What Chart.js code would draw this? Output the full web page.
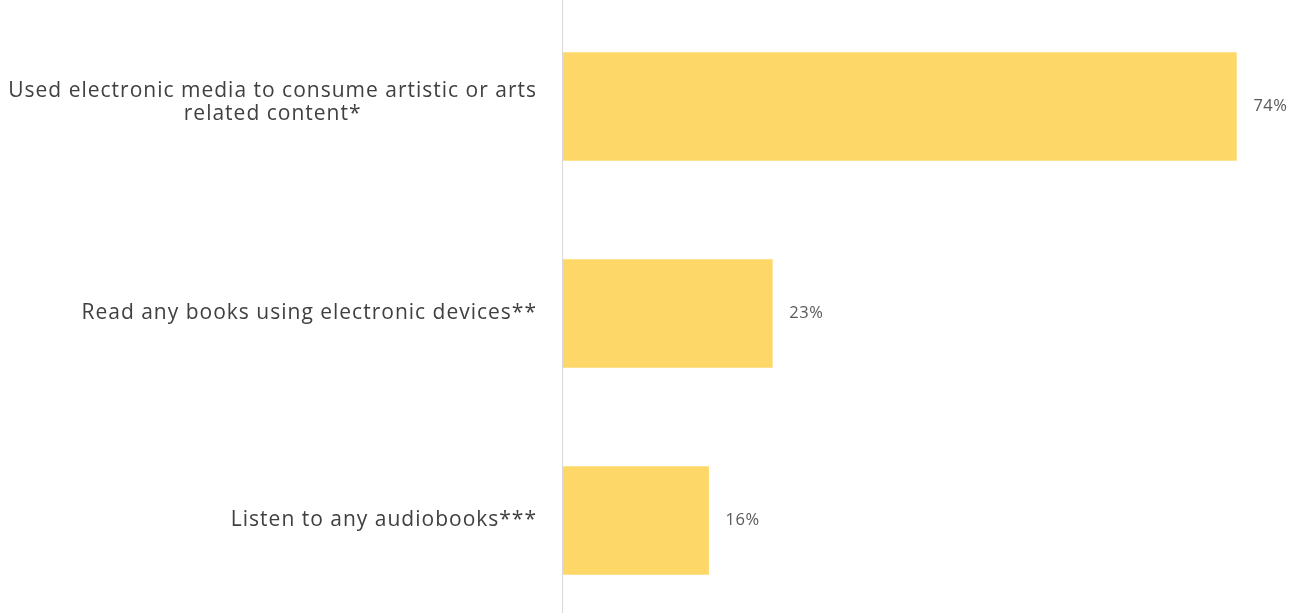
<!DOCTYPE html>
<html><head><meta charset="utf-8">
<script src="https://cdn.jsdelivr.net/npm/chart.js@4.4.0/dist/chart.umd.min.js"></script>
<style>
html,body{margin:0;padding:0;background:#fff;overflow:hidden;}
#wrap{position:relative;width:1291px;height:624px;}
</style></head>
<body>
<div id="wrap"><canvas id="c"></canvas></div>
<script>
const categories = [
  ["Used electronic media to consume artistic or arts", "related content*"],
  ["Read any books using electronic devices**"],
  ["Listen to any audiobooks***"]
];
const values = [74, 23, 16];
const valueLabels = ["74%", "23%", "16%"];

const FONT = "'Open Sans', sans-serif";

const labelPlugin = {
  id: 'labels',
  afterDatasetsDraw(chart) {
    const ctx = chart.ctx;
    const x = chart.scales.x, y = chart.scales.y;
    const x0 = x.getPixelForValue(0);
    ctx.save();
    // axis line
    ctx.strokeStyle = '#d9d9d9';
    ctx.lineWidth = 1;
    ctx.beginPath();
    ctx.moveTo(Math.round(x0) - 0.5, 0);
    ctx.lineTo(Math.round(x0) - 0.5, chart.height);
    ctx.stroke();
    // category labels
    ctx.fillStyle = '#404040';
    ctx.font = "21px " + FONT;
    ctx.letterSpacing = '1px';
    ctx.textBaseline = 'middle';
    categories.forEach((lines, i) => {
      const cy = y.getPixelForValue(i);
      const lh = 23;
      const top = cy - (lines.length - 1) * lh / 2 - (lines.length - 1) * 4;
      const widths = lines.map(l => ctx.measureText(l).width);
      const maxW = Math.max(...widths);
      const right = x0 - 26;
      lines.forEach((l, k) => {
        ctx.textAlign = 'center';
        ctx.fillText(l, right - maxW / 2, top + k * lh);
      });
    });
    // value labels
    ctx.fillStyle = '#595959';
    ctx.font = "16.5px " + FONT;
    ctx.letterSpacing = '0.5px';
    ctx.textAlign = 'left';
    values.forEach((v, i) => {
      ctx.fillText(valueLabels[i], x.getPixelForValue(v) + 17, y.getPixelForValue(i));
    });
    ctx.restore();
  }
};

new Chart(document.getElementById('c'), {
  type: 'bar',
  data: {
    labels: categories.map(c => c.join(' ')),
    datasets: [{
      data: values,
      backgroundColor: '#fdd868',
      borderWidth: 0,
      barThickness: 108
    }]
  },
  options: {
    indexAxis: 'y',
    responsive: true,
    maintainAspectRatio: false,
    animation: false,
    layout: { padding: { left: 563, top: 3, right: 0, bottom: 0 } },
    plugins: { legend: { display: false }, tooltip: { enabled: false } },
    scales: {
      x: { display: false, min: 0, max: 80 },
      y: { display: false }
    }
  },
  plugins: [labelPlugin]
});
</script>
</body></html>
